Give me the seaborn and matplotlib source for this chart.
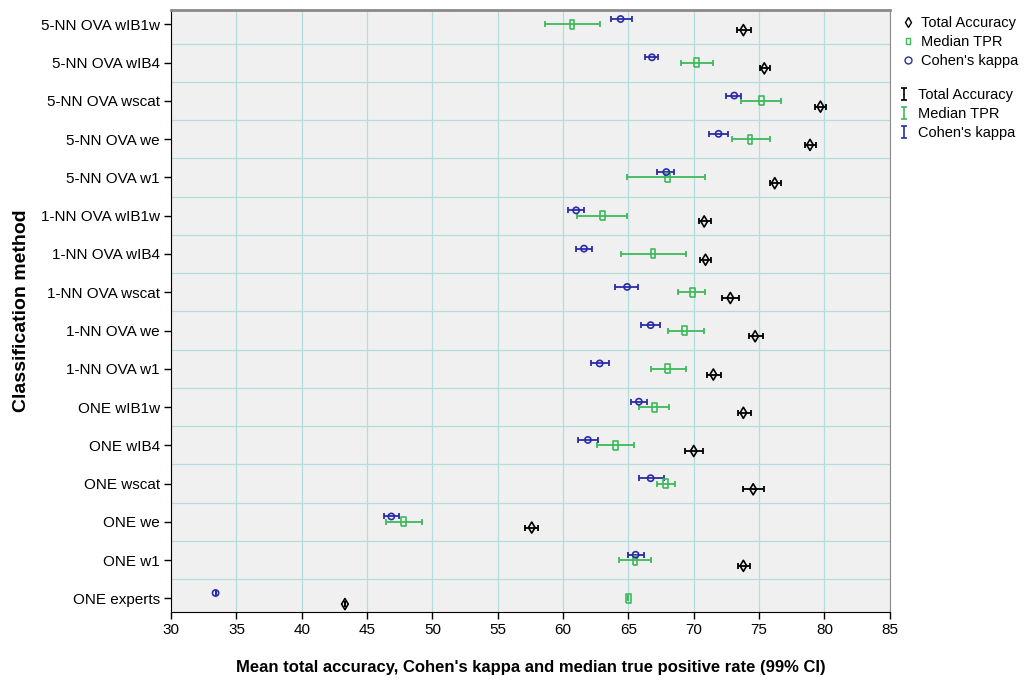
import numpy as np
import pandas as pd
import seaborn as sns
import matplotlib.pyplot as plt
from matplotlib.lines import Line2D
from matplotlib.path import Path

methods = ["5-NN OVA wIB1w", "5-NN OVA wIB4", "5-NN OVA wscat", "5-NN OVA we", "5-NN OVA w1",
           "1-NN OVA wIB1w", "1-NN OVA wIB4", "1-NN OVA wscat", "1-NN OVA we", "1-NN OVA w1",
           "ONE wIB1w", "ONE wIB4", "ONE wscat", "ONE we", "ONE w1", "ONE experts"]

accuracy = [73.8, 75.4, 79.7, 78.9, 76.2, 70.8, 70.9, 72.8, 74.7, 71.5, 73.8, 70.0, 74.55, 57.6, 73.8, 43.3]
acc_lo = [73.3, 75.05, 79.3, 78.5, 75.8, 70.4, 70.45, 72.2, 74.2, 71.0, 73.4, 69.35, 73.8, 57.1, 73.4, 43.3]
acc_hi = [74.4, 75.8, 80.1, 79.35, 76.7, 71.3, 71.35, 73.5, 75.3, 72.1, 74.4, 70.7, 75.4, 58.1, 74.3, 43.3]

tpr = [60.7, 70.2, 75.2, 74.3, 68.0, 63.0, 66.9, 69.9, 69.3, 68.0, 67.0, 64.0, 67.85, 47.8, 65.5, 65.0]
tpr_lo = [58.6, 69.0, 73.6, 72.9, 64.9, 61.1, 64.4, 68.8, 68.0, 66.7, 65.8, 62.6, 67.2, 46.45, 64.3, 65.0]
tpr_hi = [62.8, 71.5, 76.7, 75.8, 70.9, 64.9, 69.4, 70.9, 70.75, 69.4, 68.1, 65.45, 68.6, 49.2, 66.7, 65.0]

kappa = [64.4, 66.8, 73.1, 71.9, 67.9, 61.0, 61.6, 64.9, 66.7, 62.8, 65.8, 61.9, 66.7, 46.85, 65.55, 33.4]
kappa_lo = [63.65, 66.3, 72.5, 71.2, 67.2, 60.4, 61.0, 64.0, 66.0, 62.15, 65.2, 61.15, 65.8, 46.3, 65.0, 33.4]
kappa_hi = [65.3, 67.3, 73.6, 72.6, 68.5, 61.6, 62.2, 65.7, 67.4, 63.5, 66.45, 62.7, 67.7, 47.45, 66.2, 33.4]

x_ticks = [30, 35, 40, 45, 50, 55, 60, 65, 70, 75, 80, 85]

sns.set_style("ticks", {"axes.facecolor": "#f0f0f0", "axes.edgecolor": "black",
                        "text.color": "black", "xtick.color": "black", "ytick.color": "black",
                        "axes.labelcolor": "black"})
plt.rcParams['font.family'] = ['Liberation Sans', 'DejaVu Sans']

rect = [(-0.5, -1), (0.5, -1), (0.5, 1), (-0.5, 1), (-0.5, -1)]
# serif "I" symbol used by the error bar legend
i_bar = Path([(-0.6, 1), (0.6, 1), (0, 1), (0, -1), (-0.6, -1), (0.6, -1)],
             [Path.MOVETO, Path.LINETO, Path.MOVETO, Path.LINETO, Path.MOVETO, Path.LINETO])

series = [
    # name, values, lo, hi, color, marker, size, offset
    ("Total Accuracy", accuracy, acc_lo, acc_hi, "black", "d", 32, 0.15),
    ("Median TPR", tpr, tpr_lo, tpr_hi, "#3dba5a", rect, 42, 0.0),
    ("Cohen's kappa", kappa, kappa_lo, kappa_hi, "#2b2ba6", "o", 20, -0.14),
]

fig = plt.figure(figsize=(10.25, 6.82), dpi=100)
ax = fig.add_axes([0.167, 0.103, 0.701, 0.882])

pos = np.arange(len(methods))
for name, vals, lo, hi, col, mk, sz, off in series:
    vals = np.array(vals)
    err = [vals - np.array(lo), np.array(hi) - vals]
    ax.errorbar(vals, pos + off, xerr=err, fmt="none", ecolor=col, elinewidth=1.3,
                capsize=2.5, capthick=1.3, zorder=3)
    df = pd.DataFrame({"value": vals, "pos": pos + off})
    sns.scatterplot(data=df, x="value", y="pos", marker=mk, s=sz, facecolors="none",
                    edgecolor=col, linewidth=1.2, ax=ax, zorder=4)

ax.set_xlim(30, 85)
ax.set_ylim(15.35, -0.37)
ax.set_xticks(x_ticks)
ax.set_xticklabels([str(t) for t in x_ticks], fontsize=11)
ax.set_yticks(pos)
ax.set_yticklabels(methods, fontsize=11)
ax.set_yticks(pos[:-1] + 0.5, minor=True)
ax.tick_params(axis="y", which="minor", length=0)
ax.tick_params(axis="both", which="major", length=5, width=1, color="black", pad=3)
ax.grid(axis="x", which="major", color="#b4dcdc", lw=0.9)
ax.grid(axis="y", which="minor", color="#b4dcdc", lw=0.9)
ax.set_axisbelow(True)
for s in ["top", "right"]:
    ax.spines[s].set_color("#8a8a8a")
ax.spines["top"].set_linewidth(2)

ax.set_xlabel("Mean total accuracy, Cohen's kappa and median true positive rate (99% CI)",
              fontsize=12, fontweight="bold", labelpad=17)
ax.set_ylabel("Classification method", fontsize=14, fontweight="bold", labelpad=8)

marker_handles = [Line2D([], [], ls="none", marker=mk, color=col, mfc="none", markersize=5, mew=1)
                  for name, v, l, h, col, mk, sz, off in series]
fig.legend(marker_handles, [s[0] for s in series], loc="upper left",
           bbox_to_anchor=(0.874, 0.985), frameon=False, fontsize=10.5,
           handlelength=0.8, handletextpad=0.5, labelspacing=0.35, borderaxespad=0)
bar_handles = [Line2D([], [], ls="none", marker=i_bar, color=s[4], markersize=8, mew=1.2)
               for s in series]
fig.legend(bar_handles, [s[0] for s in series], loc="upper left",
           bbox_to_anchor=(0.871, 0.88), frameon=False, fontsize=10.5,
           handlelength=0.8, handletextpad=0.5, labelspacing=0.35, borderaxespad=0)

fig.savefig("out.png", dpi=100)
